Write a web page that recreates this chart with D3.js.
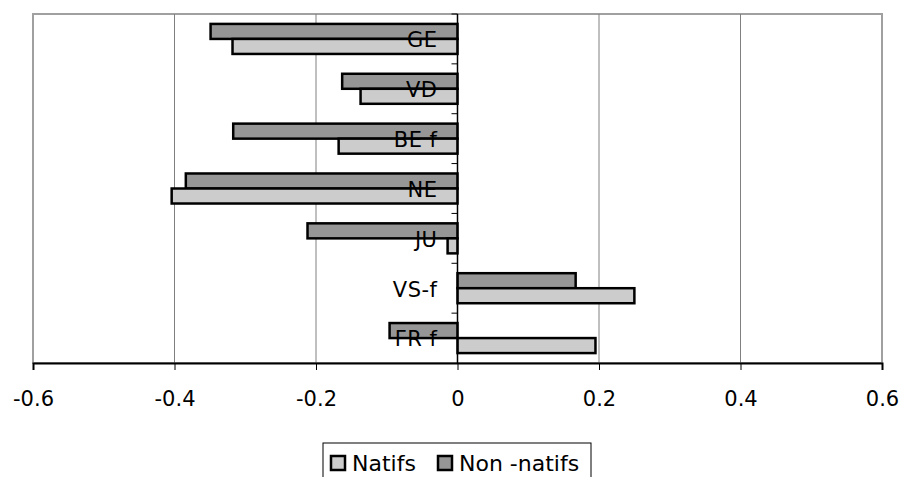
<!DOCTYPE html>
<html>
<head>
<meta charset="utf-8">
<script src="https://cdn.jsdelivr.net/npm/d3@7"></script>
<style>
  body { margin: 0; background: #fff; }
  svg { display: block; font-family: "DejaVu Sans", Verdana, sans-serif; }
</style>
</head>
<body>
<svg width="901" height="477"></svg>
<script>
// cantons, top to bottom
var cantons = ["GE", "VD", "BE f", "NE", "JU", "VS-f", "FR f"];
var seriesNames = ["Non -natifs", "Natifs"];
var nonNatifs = [-0.349, -0.163, -0.317, -0.384, -0.212, 0.167, -0.096];
var natifs = [-0.318, -0.137, -0.168, -0.404, -0.014, 0.250, 0.195];
var xTicks = [-0.6, -0.4, -0.2, 0, 0.2, 0.4, 0.6];

var colors = { "Natifs": "#cccccc", "Non -natifs": "#969696" };

var svg = d3.select("svg"),
    plotLeft = 33, plotRight = 882, plotTop = 14, plotBottom = 363;

var x = d3.scaleLinear().domain([-0.6, 0.6]).range([plotLeft, plotRight]);
var y0 = d3.scaleBand().domain(cantons).range([plotTop, plotBottom]);
var y1 = d3.scaleBand().domain(seriesNames)
    .range([0, y0.bandwidth()]).paddingInner(0).paddingOuter(0.66);

// plot frame (grey on top / sides)
svg.append("rect")
    .attr("x", plotLeft).attr("y", plotTop)
    .attr("width", plotRight - plotLeft).attr("height", plotBottom - plotTop)
    .attr("fill", "none").attr("stroke", "#a0a0a0").attr("stroke-width", 2);

// vertical gridlines
svg.append("g").selectAll("line")
  .data(xTicks.filter(function(d) { return d !== 0 && Math.abs(d) < 0.6; }))
  .enter().append("line")
    .attr("x1", function(d) { return x(d); })
    .attr("x2", function(d) { return x(d); })
    .attr("y1", plotTop).attr("y2", plotBottom)
    .attr("stroke", "#808080").attr("stroke-width", 1);

// bars
var rows = cantons.map(function(c, i) {
  return { canton: c, values: [
    { name: "Non -natifs", value: nonNatifs[i] },
    { name: "Natifs", value: natifs[i] }
  ]};
});

var groups = svg.append("g").selectAll("g")
  .data(rows)
  .enter().append("g")
    .attr("transform", function(d) { return "translate(0," + y0(d.canton) + ")"; });

groups.selectAll("rect")
  .data(function(d) { return d.values; })
  .enter().append("rect")
    .attr("x", function(d) { return x(Math.min(0, d.value)); })
    .attr("y", function(d) { return y1(d.name); })
    .attr("width", function(d) { return Math.abs(x(d.value) - x(0)); })
    .attr("height", y1.bandwidth())
    .attr("fill", function(d) { return colors[d.name]; })
    .attr("stroke", "#000").attr("stroke-width", 2.5);

// category axis at zero
var yAxis = svg.append("g");
yAxis.append("line")
    .attr("x1", x(0)).attr("x2", x(0))
    .attr("y1", plotTop).attr("y2", plotBottom)
    .attr("stroke", "#000").attr("stroke-width", 1.5);
yAxis.selectAll(".ytick")
  .data(cantons)
  .enter().append("line")
    .attr("class", "ytick")
    .attr("x1", x(0) - 6).attr("x2", x(0))
    .attr("y1", function(d) { return y0(d); })
    .attr("y2", function(d) { return y0(d); })
    .attr("stroke", "#000").attr("stroke-width", 1);
yAxis.selectAll("text")
  .data(cantons)
  .enter().append("text")
    .attr("x", x(0) - 20)
    .attr("y", function(d) { return y0(d) + y0.bandwidth() / 2; })
    .attr("dy", "0.4em")
    .attr("text-anchor", "end")
    .attr("font-size", 21)
    .attr("letter-spacing", 0.5)
    .attr("fill", "#000")
    .text(function(d) { return d; });

// value axis at bottom
var xAxis = svg.append("g")
    .attr("transform", "translate(0," + plotBottom + ")")
    .call(d3.axisBottom(x).tickValues(xTicks).tickSize(7).tickPadding(21)
      .tickFormat(function(d) { return d === 0 ? "0" : d3.format(".1f")(d).replace("\u2212", "-"); }));
xAxis.select(".domain").attr("stroke", "#000").attr("stroke-width", 2);
xAxis.selectAll(".tick line").attr("stroke", "#000");
xAxis.selectAll("text")
    .attr("font-size", 21).attr("fill", "#000")
    .attr("font-family", "DejaVu Sans, Verdana, sans-serif");

// legend
var legend = svg.append("g");
legend.append("rect")
    .attr("x", 323).attr("y", 443).attr("width", 268).attr("height", 44)
    .attr("fill", "#fff").attr("stroke", "#000").attr("stroke-width", 1);
var legendItems = [
  { name: "Natifs", x: 330 },
  { name: "Non -natifs", x: 437 }
];
var li = legend.selectAll(".item")
  .data(legendItems)
  .enter().append("g").attr("class", "item");
li.append("rect")
    .attr("x", function(d) { return d.x + 1; }).attr("y", 456)
    .attr("width", 14).attr("height", 14)
    .attr("fill", function(d) { return colors[d.name]; })
    .attr("stroke", "#000").attr("stroke-width", 2.5);
li.append("text")
    .attr("x", function(d) { return d.x + 22; })
    .attr("y", 463).attr("dy", "0.36em")
    .attr("font-size", 22).attr("fill", "#000")
    .text(function(d) { return d.name; });
</script>
</body>
</html>
